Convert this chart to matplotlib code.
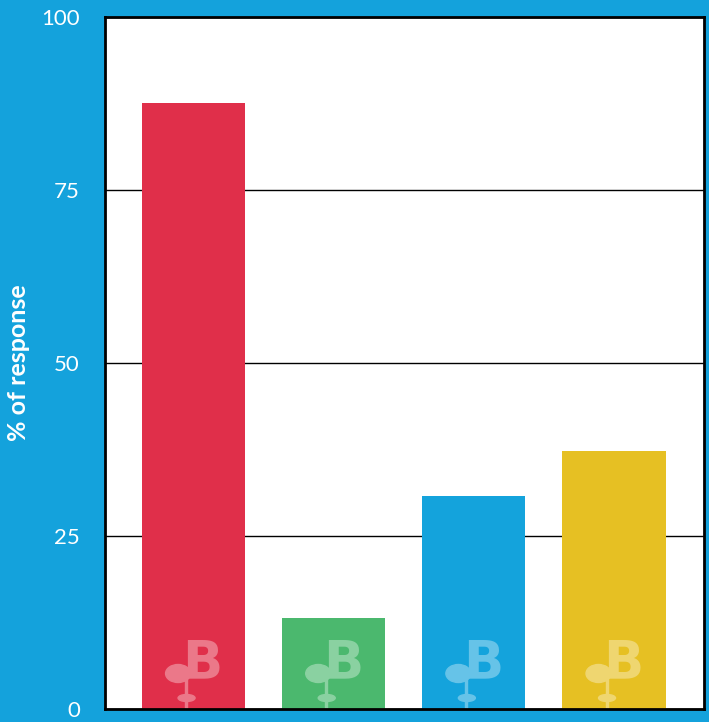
import matplotlib.pyplot as plt
from matplotlib import transforms as mtransforms
from matplotlib.patches import Ellipse, Rectangle

categories = ["A", "B", "C", "D"]
values = [87.6, 13.2, 30.8, 37.3]
bar_colors = ["#e02f4a", "#4bb86e", "#14a3dc", "#e6c023"]
yticks = [0, 25, 50, 75, 100]

bg = "#14a2dc"


def lighten(c, f=0.35):
    r, g, b = int(c[1:3], 16), int(c[3:5], 16), int(c[5:7], 16)
    return ((r + (255 - r) * f) / 255, (g + (255 - g) * f) / 255, (b + (255 - b) * f) / 255)


fig = plt.figure(figsize=(7.09, 7.22), dpi=100, facecolor=bg)
ax = fig.add_axes([105 / 709, 13 / 722, 599 / 709, 692 / 722])
ax.set_facecolor("white")

x = list(range(len(categories)))
ax.bar(x, values, width=0.736, color=bar_colors, zorder=2)

ax.set_xlim(-0.632, 3.642)
ax.set_ylim(0, 100)
ax.set_yticks(yticks)
ax.set_yticklabels([str(t) for t in yticks], color="white", fontsize=16,
                   family="Lato")
ax.set_xticks([])
ax.tick_params(axis="y", length=0, pad=18)
ax.grid(axis="y", color="black", linewidth=1, zorder=0)
ax.set_axisbelow(True)
for s in ax.spines.values():
    s.set_color("black")
    s.set_linewidth(2)
    s.set_zorder(5)

fig.text(19 / 709, 1 - 363 / 722, "% of response", color="white", fontsize=18,
         fontweight="bold", family="Lato", rotation=90, ha="center", va="center")

# little sprout "B" logo at the bottom of every bar
for xi, c in zip(x, bar_colors):
    lc = lighten(c)
    tr = mtransforms.Affine2D() + mtransforms.ScaledTranslation(xi, 0, ax.transData)
    ax.add_patch(Rectangle((-8.5, 0), 2, 32, transform=tr, color=lc, zorder=3))
    ax.add_patch(Ellipse((-15.5, 35.5), 25, 18, transform=tr, color=lc, zorder=3))
    ax.add_patch(Ellipse((-7, 11), 17, 7, transform=tr, color=lc, zorder=3))
    ax.text(-11, 31, "B", transform=tr, color=lc, fontsize=38, family="DejaVu Sans",
            fontweight="bold", ha="left", va="baseline", zorder=3)

fig.savefig("out.png", dpi=100, facecolor=bg)
